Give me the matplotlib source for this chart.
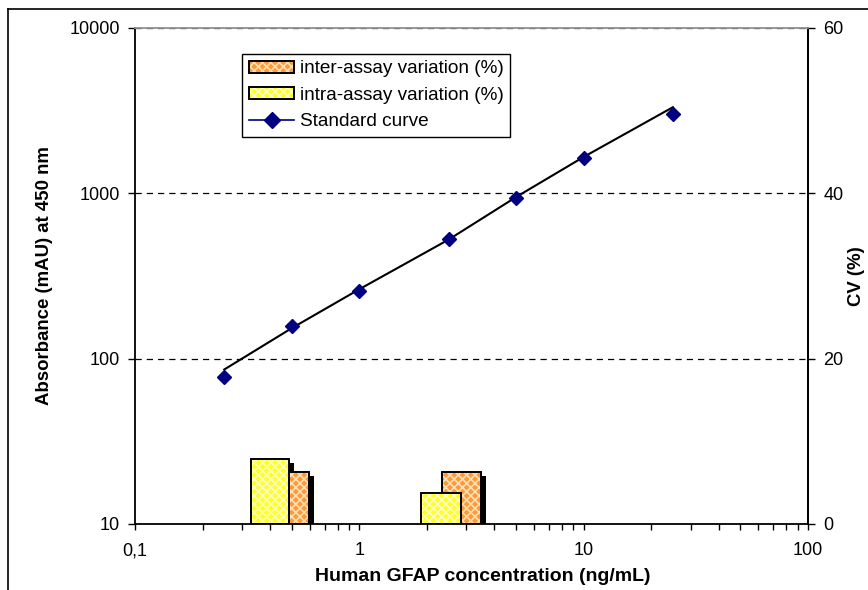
import matplotlib
matplotlib.use("Agg")
import matplotlib.pyplot as plt
import matplotlib.transforms as mtransforms
from matplotlib.lines import Line2D
from matplotlib.patches import Patch, Rectangle
from matplotlib.ticker import FixedLocator, FixedFormatter, LogLocator, NullFormatter

plt.rcParams['font.family'] = ['Liberation Sans', 'DejaVu Sans']
plt.rcParams['hatch.linewidth'] = 1.2

# Standard curve (markers) - concentration in ng/mL, absorbance in mAU
std_conc = [0.25, 0.5, 1, 2.5, 5, 10, 25]
std_abs = [78, 158, 257, 530, 938, 1637, 3008]

# fitted curve
fit_conc = [0.25, 0.5, 1, 2.5, 5, 10, 25]
fit_abs = [86, 153, 263, 525, 950, 1660, 3320]

# CV (%) for the two controls
controls = ['low', 'high']
intra_cv = [7.9, 3.7]
inter_cv = [6.3, 6.3]

# bar spans in ng/mL (left, right) as drawn in the original
intra_span = [(0.328, 0.485), (1.88, 2.83)]
inter_span = [(0.485, 0.594), (2.33, 3.48)]

yellow = '#FFFF22'
yellow_dots = '#FFFFC8'
orange = '#FF9933'
orange_dots = '#FFE0B8'
navy = '#000080'

fig = plt.figure(figsize=(8.68, 5.90), dpi=100)
ax = fig.add_axes([135/868, 66/590, 673/868, 496/590])
ax2 = ax.twinx()

# --- left axis : standard curve
ax.set_xscale('log')
ax.set_yscale('log')
ax.set_xlim(0.1, 100)
ax.set_ylim(10, 10000)

ax.plot(fit_conc, fit_abs, color='black', lw=1.5, zorder=3)
ax.plot(std_conc, std_abs, linestyle='none', marker='D', ms=7,
        color=navy, mec=navy, zorder=4)

ax.yaxis.set_major_locator(FixedLocator([10, 100, 1000, 10000]))
ax.yaxis.set_major_formatter(FixedFormatter(['10', '100', '1000', '10000']))
ax.yaxis.set_minor_locator(FixedLocator([]))
ax.xaxis.set_major_locator(FixedLocator([0.1, 1, 10, 100]))
ax.xaxis.set_major_formatter(FixedFormatter(['0,1', '1', '10', '100']))
ax.xaxis.set_minor_locator(LogLocator(base=10, subs=range(2, 10)))
ax.xaxis.set_minor_formatter(NullFormatter())

ax.yaxis.grid(True, which='major', color='black', linestyle=(0, (5, 4)), lw=0.9)
ax.set_axisbelow(True)

ax.tick_params(axis='both', which='both', direction='out', color='black',
               labelsize=13, width=1)
ax.tick_params(axis='y', length=5, pad=6)
ax.tick_params(axis='x', which='major', length=4, pad=9)
ax.tick_params(axis='x', which='minor', length=4)

ax.set_ylabel('Absorbance (mAU) at 450 nm', fontsize=13.4, fontweight='bold')
ax.yaxis.set_label_coords(-0.122, 0.5)
ax.set_xlabel('Human GFAP concentration (ng/mL)', fontsize=14, fontweight='bold')
ax.xaxis.set_label_coords(0.516, -0.088)

for side in ['left', 'bottom', 'right']:
    ax.spines[side].set_color('black')
    ax.spines[side].set_linewidth(1.3)
ax.spines['top'].set_color('#909090')
ax.spines['top'].set_linewidth(1.3)

# --- right axis : CV bars
ax2.set_ylim(0, 60)
ax2.set_yticks([0, 20, 40, 60])
ax2.tick_params(axis='y', direction='out', length=5, width=1, pad=6, labelsize=13)
ax2.set_ylabel('CV (%)', fontsize=13.4, fontweight='bold')
ax2.yaxis.set_label_coords(1.059, 0.5)
ax2.spines['right'].set_linewidth(1.3)
ax2.spines['top'].set_visible(False)
ax2.spines['left'].set_visible(False)
ax2.spines['bottom'].set_visible(False)

shadow_tr = mtransforms.offset_copy(ax2.transData, fig=fig, x=4, y=-3, units='points')


def draw_bar(span, value, face, dots, z):
    left, right = span
    shadow = Rectangle((left, 0), right - left, value, facecolor='black',
                       edgecolor='none', transform=shadow_tr, zorder=1)
    ax2.add_patch(shadow)
    ax2.bar(left, value, width=right - left, align='edge', color=face,
            edgecolor=dots, hatch='xxxx', lw=0, zorder=z)
    ax2.bar(left, value, width=right - left, align='edge', fill=False,
            edgecolor='black', lw=1.4, zorder=z + 0.1)


for i in range(len(controls)):
    draw_bar(inter_span[i], inter_cv[i], orange, orange_dots, 2)
    draw_bar(intra_span[i], intra_cv[i], yellow, yellow_dots, 3)

ax.set_zorder(ax2.get_zorder() + 1)
ax.patch.set_visible(False)

# --- legend
h_inter = (Patch(facecolor=orange, edgecolor=orange_dots, hatch='xxxx', lw=0),
           Patch(fill=False, edgecolor='black', lw=1.4))
h_intra = (Patch(facecolor=yellow, edgecolor=yellow_dots, hatch='xxxx', lw=0),
           Patch(fill=False, edgecolor='black', lw=1.4))
h_std = Line2D([], [], color=navy, lw=1.2, marker='D', ms=8)
leg = ax.legend([h_inter, h_intra, h_std],
                ['inter-assay variation (%)', 'intra-assay variation (%)', 'Standard curve'],
                loc='upper left', bbox_to_anchor=(0.159, 0.948), borderaxespad=0,
                fontsize=13.7, fancybox=False, framealpha=1, edgecolor='black',
                handlelength=2.4, handleheight=0.6, handletextpad=0.3,
                labelspacing=0.5, borderpad=0.35)
leg.get_frame().set_linewidth(1.0)

# outer chart border (top and left visible)
fig.add_artist(Line2D([8/868, 1.0], [1 - 9/590, 1 - 9/590], color='black', lw=1.2))
fig.add_artist(Line2D([8/868, 8/868], [0, 1 - 9/590], color='black', lw=1.2))

fig.savefig('out.png', dpi=100)
